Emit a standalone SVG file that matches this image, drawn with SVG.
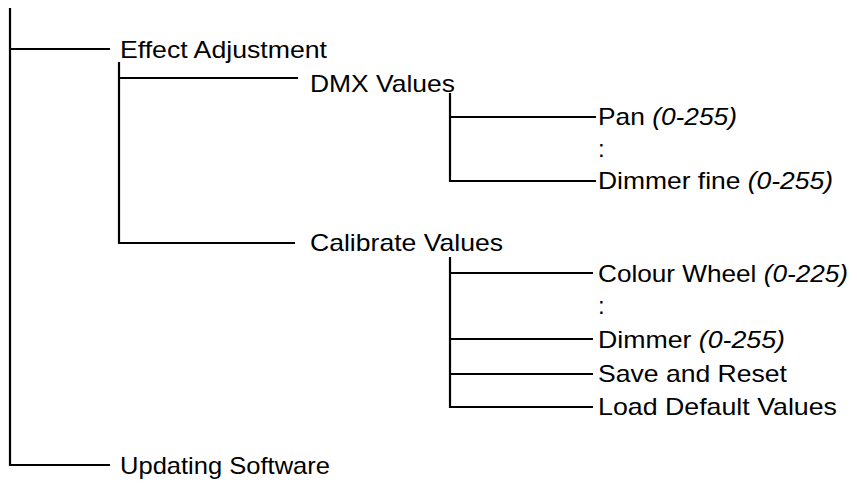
<svg xmlns="http://www.w3.org/2000/svg" width="857" height="488" viewBox="0 0 857 488">
<style>
.t{font-family:"Liberation Sans",Arial,sans-serif;font-size:24px;fill:#000}
.i{font-style:italic}
.c line{stroke:#000;stroke-width:2.2;stroke-linecap:butt}
</style>
<rect width="857" height="488" fill="#fff"/>
<g class="c" id="connectors">
<line x1="10" y1="8" x2="10" y2="466"/>
<line x1="10" y1="49" x2="110" y2="49"/>
<line x1="10" y1="465" x2="110" y2="465"/>
<line x1="119" y1="62" x2="119" y2="244"/>
<line x1="119" y1="78" x2="298" y2="78"/>
<line x1="119" y1="243" x2="295" y2="243"/>
<line x1="450" y1="93" x2="450" y2="182"/>
<line x1="450" y1="117" x2="596" y2="117"/>
<line x1="450" y1="181" x2="596" y2="181"/>
<line x1="450" y1="257" x2="450" y2="408"/>
<line x1="450" y1="273" x2="593" y2="273"/>
<line x1="450" y1="339" x2="593" y2="339"/>
<line x1="450" y1="374" x2="593" y2="374"/>
<line x1="450" y1="407" x2="593" y2="407"/>
</g>
<g id="effect"><text class="t" x="120" y="58" textLength="207" lengthAdjust="spacingAndGlyphs">Effect Adjustment</text></g>
<g id="dmx"><text class="t" x="310" y="92" textLength="145" lengthAdjust="spacingAndGlyphs">DMX Values</text></g>
<g id="pan"><text class="t" x="598" y="125" textLength="139" lengthAdjust="spacingAndGlyphs">Pan <tspan class="i">(0-255)</tspan></text></g>
<g id="dots1"><text class="t" x="598" y="157">:</text></g>
<g id="dimfine"><text class="t" x="598" y="189" textLength="235" lengthAdjust="spacingAndGlyphs">Dimmer fine <tspan class="i">(0-255)</tspan></text></g>
<g id="calib"><text class="t" x="310" y="251" textLength="193" lengthAdjust="spacingAndGlyphs">Calibrate Values</text></g>
<g id="colour"><text class="t" x="598" y="282" textLength="250" lengthAdjust="spacingAndGlyphs">Colour Wheel <tspan class="i">(0-225)</tspan></text></g>
<g id="dots2"><text class="t" x="598" y="314">:</text></g>
<g id="dimmer"><text class="t" x="598" y="348" textLength="187" lengthAdjust="spacingAndGlyphs">Dimmer <tspan class="i">(0-255)</tspan></text></g>
<g id="save"><text class="t" x="598" y="382" textLength="189" lengthAdjust="spacingAndGlyphs">Save and Reset</text></g>
<g id="load"><text class="t" x="598" y="415" textLength="239" lengthAdjust="spacingAndGlyphs">Load Default Values</text></g>
<g id="update"><text class="t" x="120" y="474" textLength="210" lengthAdjust="spacingAndGlyphs">Updating Software</text></g>
</svg>
